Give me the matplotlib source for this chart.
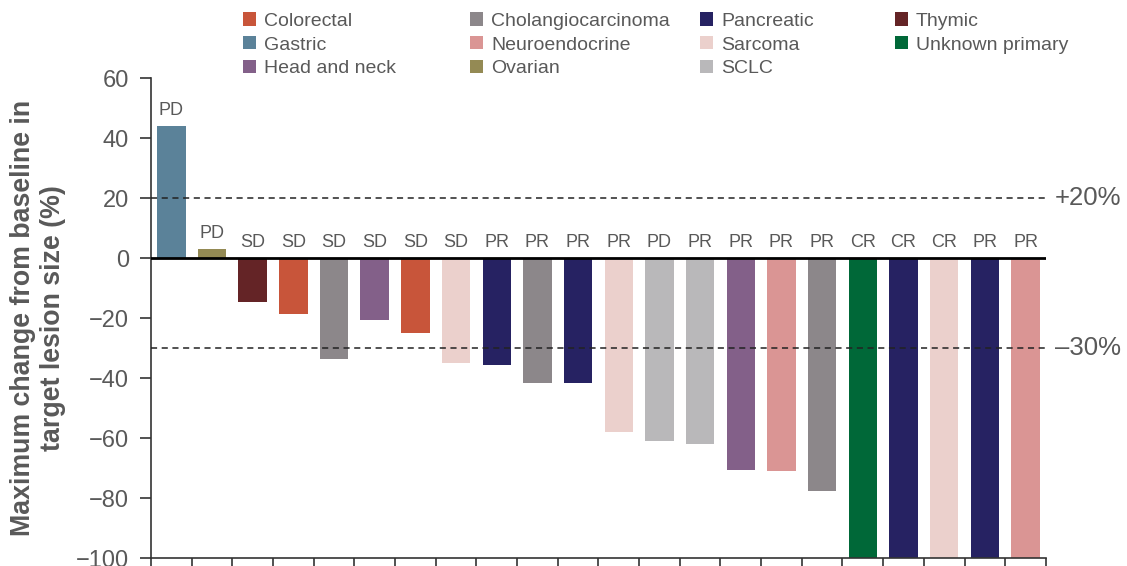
import matplotlib
matplotlib.use("Agg")
import matplotlib.pyplot as plt
from matplotlib.patches import Patch

plt.rcParams["font.family"] = ["Liberation Sans", "DejaVu Sans"]

tumor_types = ["Colorectal", "Gastric", "Head and neck", "Cholangiocarcinoma",
               "Neuroendocrine", "Ovarian", "Pancreatic", "Sarcoma", "SCLC",
               "Thymic", "Unknown primary"]
type_colors = ["#C8553A", "#5B8299", "#836089", "#8C878A", "#DA9594", "#948A54",
               "#262262", "#EBD0CC", "#B9B8BA", "#642426", "#006838"]

bar_types = ["Gastric", "Ovarian", "Thymic", "Colorectal", "Cholangiocarcinoma",
             "Head and neck", "Colorectal", "Sarcoma", "Pancreatic",
             "Cholangiocarcinoma", "Pancreatic", "Sarcoma", "SCLC", "SCLC",
             "Head and neck", "Neuroendocrine", "Cholangiocarcinoma",
             "Unknown primary", "Pancreatic", "Sarcoma", "Pancreatic",
             "Neuroendocrine"]
bar_values = [44, 3, -14.5, -18.7, -33.7, -20.6, -25.1, -35.1, -35.8, -41.8,
              -41.8, -58, -61, -62, -70.5, -71, -77.5, -100, -100, -100, -100,
              -100]
responses = ["PD", "PD", "SD", "SD", "SD", "SD", "SD", "SD", "PR", "PR", "PR",
             "PR", "PD", "PR", "PR", "PR", "PR", "CR", "CR", "CR", "PR", "PR"]
thresholds = [20, -30]
threshold_labels = ["+20%", "\u201330%"]
yticks = [60, 40, 20, 0, -20, -40, -60, -80, -100]

color_map = dict(zip(tumor_types, type_colors))
txt = "#595959"

fig = plt.figure(figsize=(11.27, 5.66), dpi=100)
ax = fig.add_axes([0.134, 0.0141, 0.794, 0.848])

n = len(bar_values)
xs = [i + 0.5 for i in range(n)]
ax.bar(xs, bar_values, width=0.7, color=[color_map[t] for t in bar_types],
       edgecolor="none", zorder=2)

for x, v, r in zip(xs, bar_values, responses):
    yy = (v if v > 0 else 0) + 2.5
    ax.text(x, yy, r, ha="center", va="bottom", fontsize=13, color=txt)

ax.axhline(0, color="black", lw=2, zorder=3)
for t, lab in zip(thresholds, threshold_labels):
    ax.axhline(t, color="#222222", lw=1.1, ls=(0, (4, 3)), zorder=3)
    ax.text(1.01, t, lab, transform=ax.get_yaxis_transform(), ha="left",
            va="center", fontsize=18.5, color=txt, clip_on=False)

ax.set_xlim(0, n)
ax.set_ylim(-100, 60)
ax.set_yticks(yticks)
ax.set_yticklabels([("\u2212" + str(-v)) if v < 0 else str(v) for v in yticks],
                   fontsize=17, color=txt)
ax.set_xticks(range(n + 1))
ax.set_xticklabels([])
ax.tick_params(axis="x", direction="out", length=8, width=1.2, color="#333333")
ax.tick_params(axis="y", direction="out", length=8, width=1.2, color="#333333", pad=8)
for s in ["top", "right"]:
    ax.spines[s].set_visible(False)
for s in ["left", "bottom"]:
    ax.spines[s].set_linewidth(1.2)
    ax.spines[s].set_color("#333333")

ax.set_ylabel("Maximum change from baseline in\ntarget lesion size (%)",
              fontsize=19.3, fontweight="bold", color=txt, labelpad=7,
              linespacing=1.2)

# legend: 4 columns
cols = [tumor_types[0:3], tumor_types[3:6], tumor_types[6:9], tumor_types[9:11]]
col_x = [0.2156, 0.417, 0.621, 0.794]
for names, cx in zip(cols, col_x):
    handles = [Patch(facecolor=color_map[nm], edgecolor="none") for nm in names]
    fig.legend(handles, names, loc="upper left", bbox_to_anchor=(cx, 0.978),
               frameon=False, fontsize=14, handlelength=0.67, handleheight=0.67,
               handletextpad=0.42, labelspacing=0.32, labelcolor=txt,
               borderaxespad=0, borderpad=0)

fig.savefig("out.png", dpi=100)
